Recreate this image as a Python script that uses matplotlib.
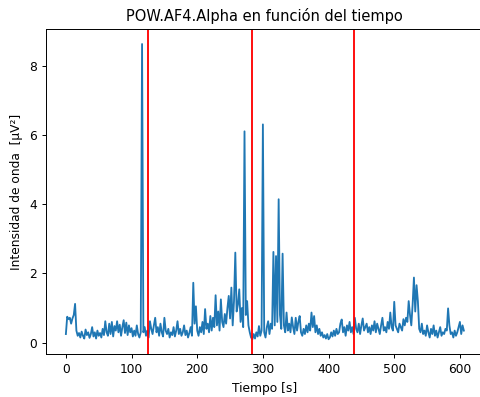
import numpy as np
import matplotlib
matplotlib.use("Agg")
import matplotlib.pyplot as plt

step = 2.0
values = [
    0.25, 0.75, 0.68, 0.72, 0.55, 0.7, 0.8, 1.12, 0.35, 0.2,
    0.28, 0.15, 0.32, 0.2, 0.12, 0.38, 0.22, 0.3, 0.14, 0.25,
    0.45, 0.18, 0.3, 0.12, 0.35, 0.2, 0.28, 0.15, 0.4, 0.22,
    0.62, 0.3, 0.2, 0.55, 0.25, 0.6, 0.18, 0.48, 0.35, 0.62,
    0.3, 0.52, 0.2, 0.45, 0.65, 0.28, 0.58, 0.22, 0.5, 0.3,
    0.42, 0.18, 0.35, 0.2, 0.5, 0.25, 0.15, 0.3, 8.62, 0.3,
    0.45, 0.2, 0.35, 0.15, 0.62, 0.4, 0.25, 0.5, 0.72, 0.3,
    0.45, 0.2, 0.55, 0.3, 0.18, 0.72, 0.35, 0.25, 0.4, 0.15,
    0.3, 0.22, 0.45, 0.18, 0.35, 0.62, 0.25, 0.4, 0.2, 0.3,
    0.5, 0.22, 0.35, 0.15, 0.28, 0.45, 0.2, 1.73, 0.55, 1.05,
    0.35, 0.2, 0.45, 0.3, 0.6, 0.25, 0.97, 0.4, 0.55, 0.3,
    0.77, 0.35, 0.72, 0.45, 1.37, 0.5, 0.9, 0.35, 1.25, 0.6,
    0.45, 0.83, 0.55, 1.0, 1.35, 0.7, 1.59, 0.5, 1.2, 2.6,
    0.9, 1.1, 1.54, 0.6, 1.0, 0.45, 6.1, 0.8, 1.2, 0.5,
    0.3, 0.15, 0.1, 0.25, 0.12, 0.3, 0.18, 0.48, 0.2, 0.35,
    6.3, 0.3, 0.15, 0.45, 0.62, 0.25, 0.55, 0.4, 2.62, 0.5,
    2.5, 0.6, 4.14, 0.8, 0.4, 2.57, 0.5, 0.3, 0.87, 0.35,
    0.55, 0.3, 0.73, 0.45, 0.25, 0.72, 0.35, 0.6, 0.77, 0.3,
    0.2, 0.4, 0.25, 0.5, 0.3, 0.55, 0.35, 0.87, 0.45, 0.77,
    0.3, 0.5, 0.25, 0.4, 0.2, 0.3, 0.15, 0.22, 0.12, 0.25,
    0.1, 0.15, 0.3, 0.18, 0.35, 0.2, 0.4, 0.25, 0.3, 0.55,
    0.67, 0.3, 0.45, 0.2, 0.5, 0.35, 0.6, 0.3, 0.45, 0.25,
    0.72, 0.4, 0.3, 0.55, 0.25, 0.5, 0.7, 0.35, 0.45, 0.55,
    0.3, 0.45, 0.25, 0.5, 0.35, 0.62, 0.3, 0.55, 0.4, 0.25,
    0.5, 0.72, 0.35, 0.45, 0.3, 0.6, 0.4, 0.87, 0.45, 0.35,
    1.18, 0.5, 0.4, 0.3, 0.55, 0.45, 0.35, 0.68, 0.5, 0.72,
    0.6, 1.2, 0.8, 0.5, 1.1, 1.88, 0.9, 1.66, 1.2, 0.4,
    0.3, 0.55, 0.25, 0.35, 0.2, 0.5, 0.3, 0.15, 0.4, 0.25,
    0.5, 0.2, 0.35, 0.15, 0.3, 0.45, 0.2, 0.3, 0.25, 0.4,
    0.35, 0.99, 0.5, 0.25, 0.3, 0.15, 0.35, 0.2, 0.3, 0.45,
    0.6, 0.25, 0.5, 0.35,
]
times = np.arange(len(values)) * step
event_times = [125, 283, 438]

s = 0.88
plt.rcParams.update({
    "font.size": 10 * s,
    "axes.titlesize": 12 * s,
    "axes.labelsize": 10 * s,
    "xtick.labelsize": 10 * s,
    "ytick.labelsize": 10 * s,
    "xtick.major.size": 3.5 * s,
    "ytick.major.size": 3.5 * s,
    "xtick.major.width": 0.8 * s,
    "ytick.major.width": 0.8 * s,
    "axes.linewidth": 0.8 * s,
})

fig = plt.figure(figsize=(4.8, 3.97), dpi=100)
ax = fig.add_axes([0.0958, 0.1083, 0.912, 0.818])
ax.plot(times, values, color="#1f77b4", linewidth=1.5 * s)
for t in event_times:
    ax.axvline(t, color="red", linewidth=1.5 * s)
ax.set_title("POW.AF4.Alpha en función del tiempo")
ax.set_xlabel("Tiempo [s]")
ax.set_ylabel("Intensidad de onda  [μV²]")
fig.savefig("out.png", dpi=100)
